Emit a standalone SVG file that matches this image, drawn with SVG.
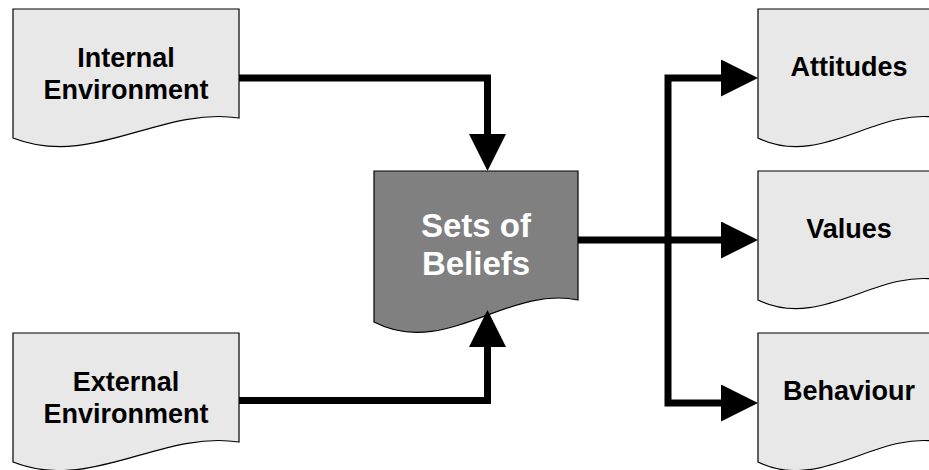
<svg xmlns="http://www.w3.org/2000/svg" width="929" height="470" viewBox="0 0 929 470">
  <style>
    .doc { fill: #e8e8e8; stroke: #000; stroke-width: 1.2; }
    .core { fill: #808080; stroke: #000; stroke-width: 1.2; }
    .lbl { font-family: "Liberation Sans", Arial, sans-serif; font-weight: bold; font-size: 27px; fill: #000; text-anchor: middle; }
    .lbl-core { font-family: "Liberation Sans", Arial, sans-serif; font-weight: bold; font-size: 33px; fill: #fff; text-anchor: middle; }
    .wire { fill: none; stroke: #000; stroke-width: 7; stroke-linejoin: miter; marker-end: url(#head); }
  </style>
  <defs>
    <marker id="head" markerUnits="userSpaceOnUse" markerWidth="37" markerHeight="37" viewBox="0 0 37 37" refX="0" refY="18.5" orient="auto">
      <path d="M0,0 L37,18.5 L0,37 Z" fill="#000"/>
    </marker>
  </defs>
  <rect width="929" height="470" fill="#fff"/>

  <!-- inputs -->
  <g id="internal-environment">
    <path class="doc" d="M13,9 H239 V118 C159.9,106 92.1,169 13,138 Z"/>
    <text class="lbl" x="126" y="67">Internal</text>
    <text class="lbl" x="126" y="99">Environment</text>
  </g>
  <g id="external-environment">
    <path class="doc" d="M13,333 H239 V442 C159.9,430 92.1,493 13,462 Z"/>
    <text class="lbl" x="126" y="391">External</text>
    <text class="lbl" x="126" y="423">Environment</text>
  </g>

  <!-- central node -->
  <g id="sets-of-beliefs">
    <path class="core" d="M374,171 H578 V300 C506.6,285 445.4,359 374,322 Z"/>
    <text class="lbl-core" x="476" y="237">Sets of</text>
    <text class="lbl-core" x="476" y="275">Beliefs</text>
  </g>

  <!-- outputs -->
  <g id="attitudes">
    <path class="doc" d="M758,9 H940 V118 C876.3,106 821.7,169 758,138 Z"/>
    <text class="lbl" x="849" y="76">Attitudes</text>
  </g>
  <g id="values">
    <path class="doc" d="M758,171 H940 V280 C876.3,268 821.7,331 758,300 Z"/>
    <text class="lbl" x="849" y="238">Values</text>
  </g>
  <g id="behaviour">
    <path class="doc" d="M758,333 H940 V442 C876.3,430 821.7,493 758,462 Z"/>
    <text class="lbl" x="849" y="400">Behaviour</text>
  </g>

  <!-- connectors -->
  <g id="connectors">
    <path class="wire" d="M239,78 H487.5 V134"/>
    <path class="wire" d="M239,400.5 H487.5 V347"/>
    <path class="wire" d="M578,240 H721"/>
    <path class="wire" d="M668,240 V78 H721"/>
    <path class="wire" d="M668,240 V403 H721"/>
  </g>
</svg>
